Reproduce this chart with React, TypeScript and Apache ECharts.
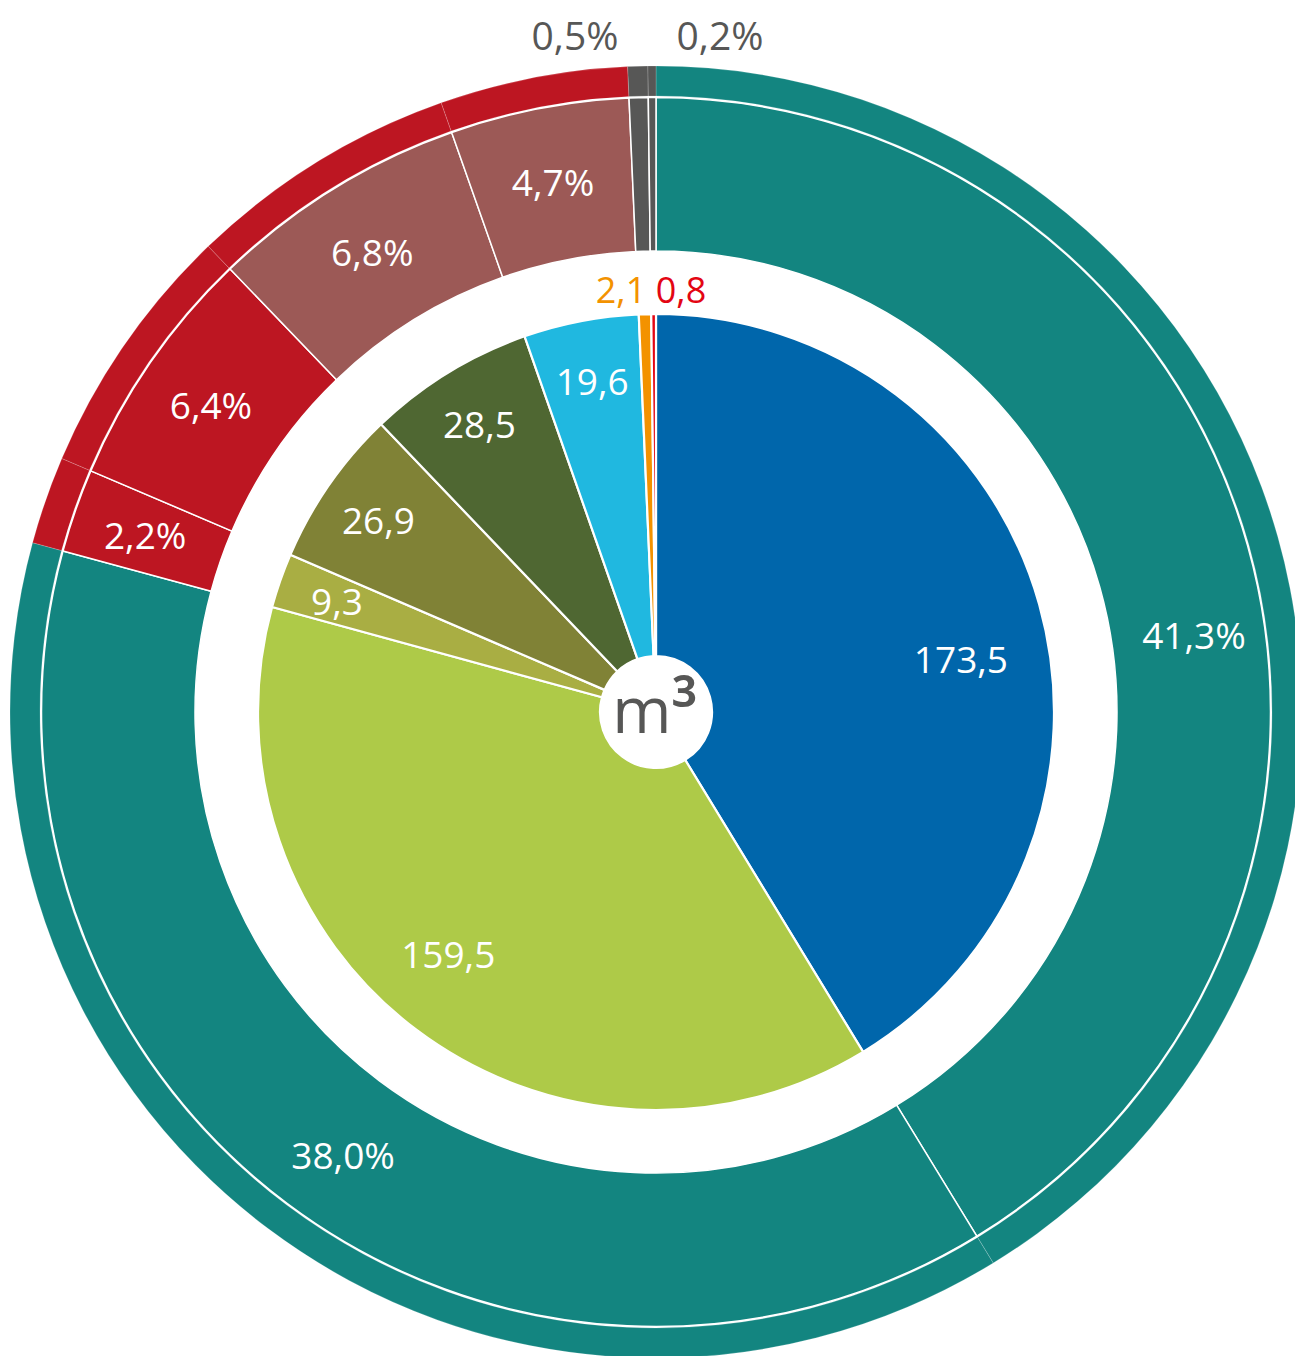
import React, { useEffect, useRef } from "react";
import * as echarts from "echarts";

// ---- data ----
const categories = ["Sektor 1", "Sektor 2", "Sektor 3", "Sektor 4", "Sektor 5", "Sektor 6", "Sektor 7", "Sektor 8"];
const volumes = [173.5, 159.5, 9.3, 26.9, 28.5, 19.6, 2.1, 0.8]; // m³
const shares = [41.3, 38.0, 2.2, 6.4, 6.8, 4.7, 0.5, 0.2]; // %
const unitBase = "m";
const unitExp = "³";

// ---- styling ----
const innerColors = ["#0066ab", "#aeca48", "#a9ae43", "#808236", "#4f6732", "#20b8e0", "#f39200", "#e30613"];
const middleColors = ["#138580", "#138580", "#bd1622", "#bd1622", "#9c5956", "#9c5956", "#575756", "#575756"];
const outerColors = ["#138580", "#138580", "#bd1622", "#bd1622", "#bd1622", "#bd1622", "#575756", "#575756"];

const FONT = "'Open Sans', 'Noto Sans', sans-serif";
const FS = 37;
const CX = 656;
const CY = 712;

const fmt = (v: number) => v.toFixed(1).replace(".", ",");

// label nudges: [horizontal padding, vertical shift]
const innerNudge: Record<number, { pad: number[]; dy: number }> = {
  0: { pad: [0, 41, 0, 0], dy: 38 },
  1: { pad: [0, 9, 0, 0], dy: -29 },
};
const middleNudge: Record<number, { pad: number[]; dy: number }> = {
  0: { pad: [0, 0, 0, 35], dy: 69 },
  1: { pad: [0, 0, 0, 23], dy: 10 },
};

const shiftText = (t: string, dy: number) => (dy > 0 ? "\n" + t : dy < 0 ? t + "\n" : t);

const itemLabel = (i: number, nudges: Record<number, { pad: number[]; dy: number }>) => {
  if (i >= 6) return { show: false };
  const n = nudges[i];
  if (!n) return {};
  return { padding: n.pad, lineHeight: Math.abs(n.dy) * 2 };
};

export default function App() {
  const ref = useRef<HTMLDivElement>(null);

  useEffect(() => {
    if (!ref.current) return;
    const chart = echarts.init(ref.current, null, { renderer: "svg" });

    const common = {
      type: "pie",
      center: [CX, CY],
      startAngle: 90,
      clockwise: true,
      silent: true,
      avoidLabelOverlap: false,
      labelLine: { show: false },
      emphasis: { disabled: true },
    };

    const option: any = {
      animation: false,
      backgroundColor: "#ffffff",
      series: [
        {
          ...common,
          name: "inner",
          radius: [56, 398],
          label: { show: false },
          itemStyle: { borderColor: "#ffffff", borderWidth: 2.2 },
          data: volumes.map((v, i) => ({
            name: categories[i],
            value: v,
            itemStyle: { color: innerColors[i] },
          })),
        },
        {
          ...common,
          name: "innerLabels",
          radius: [272, 398],
          itemStyle: { color: "rgba(0,0,0,0)", borderWidth: 0 },
          label: {
            show: true,
            position: "inside",
            color: "#ffffff",
            fontFamily: FONT,
            fontSize: FS,
            formatter: (p: any) => shiftText(fmt(p.value), innerNudge[p.dataIndex]?.dy || 0),
          },
          data: volumes.map((v, i) => ({
            name: categories[i],
            value: v,
            label: itemLabel(i, innerNudge),
          })),
        },
        {
          ...common,
          name: "middle",
          radius: [461, 614.5],
          itemStyle: { borderColor: "#ffffff", borderWidth: 1.5 },
          label: {
            show: true,
            position: "inside",
            color: "#ffffff",
            fontFamily: FONT,
            fontSize: FS,
            formatter: (p: any) => shiftText(fmt(p.value) + "%", middleNudge[p.dataIndex]?.dy || 0),
          },
          data: shares.map((v, i) => ({
            name: categories[i],
            value: v,
            itemStyle: { color: middleColors[i] },
            label: itemLabel(i, middleNudge),
          })),
        },
        {
          ...common,
          name: "outer",
          radius: [616, 646],
          label: { show: false },
          itemStyle: { borderColor: "rgba(255,255,255,0.3)", borderWidth: 0.6 },
          data: shares.map((v, i) => ({
            name: categories[i],
            value: v,
            itemStyle: { color: outerColors[i] },
          })),
        },
      ],
      graphic: [
        {
          type: "text",
          x: 621,
          y: 289,
          silent: true,
          style: {
            text: fmt(volumes[6]),
            fill: innerColors[6],
            fontFamily: FONT,
            fontSize: 36,
            align: "center",
            verticalAlign: "middle",
          },
        },
        {
          type: "text",
          x: 681,
          y: 289,
          silent: true,
          style: {
            text: fmt(volumes[7]),
            fill: innerColors[7],
            fontFamily: FONT,
            fontSize: 36,
            align: "center",
            verticalAlign: "middle",
          },
        },
        {
          type: "text",
          x: 575,
          y: 34,
          silent: true,
          style: {
            text: fmt(shares[6]) + "%",
            fill: "#575756",
            fontFamily: FONT,
            fontSize: 39,
            align: "center",
            verticalAlign: "middle",
          },
        },
        {
          type: "text",
          x: 720,
          y: 34,
          silent: true,
          style: {
            text: fmt(shares[7]) + "%",
            fill: "#575756",
            fontFamily: FONT,
            fontSize: 39,
            align: "center",
            verticalAlign: "middle",
          },
        },
        {
          type: "text",
          x: CX - 1,
          y: CY - 4,
          silent: true,
          style: {
            text: `{m|${unitBase}}{s|${unitExp}}`,
            fill: "#575756",
            fontFamily: FONT,
            fontSize: 64,
            align: "center",
            verticalAlign: "middle",
            rich: {
              m: { fontFamily: FONT, fontSize: 64, fill: "#575756" },
              s: { fontFamily: FONT, fontSize: 72, fontWeight: 600, fill: "#575756" },
            },
          },
        },
      ],
    };

    chart.setOption(option);
    return () => chart.dispose();
  }, []);

  return (
    <div
      ref={ref}
      style={{ position: "absolute", left: 0, top: 0, width: 1295, height: 1356 }}
    />
  );
}
